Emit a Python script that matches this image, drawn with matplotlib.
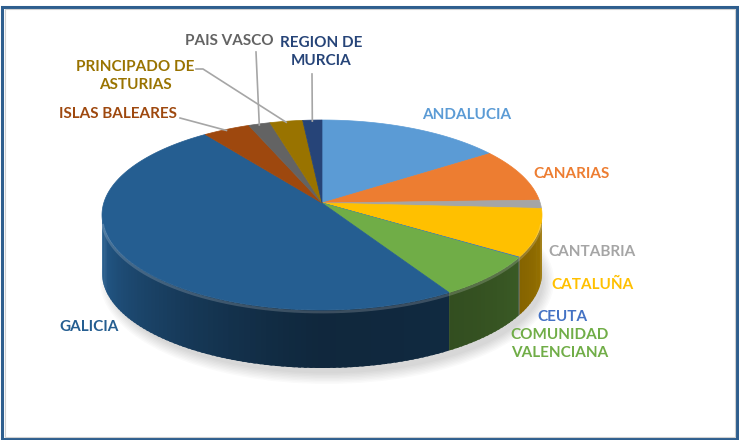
import matplotlib
matplotlib.use("Agg")
import matplotlib.pyplot as plt
import numpy as np
from matplotlib.colors import to_rgb
from matplotlib.patches import Polygon, Ellipse, Rectangle

# data (share of each region, clockwise from 12 o'clock)
regions = ["ANDALUCIA", "CANARIAS", "CANTABRIA", "CATALUÑA", "CEUTA",
           "COMUNIDAD\nVALENCIANA", "GALICIA", "ISLAS BALEARES", "PAIS VASCO",
           "PRINCIPADO DE\nASTURIAS", "REGION DE\nMURCIA"]
values = [13.8, 8.7, 1.4, 8.4, 0.1, 7.8, 50.9, 3.5, 1.6, 2.4, 1.4]
colors = ["#5B9BD5", "#ED7D31", "#A5A5A5", "#FFC000", "#4472C4", "#70AD47",
          "#255E91", "#9E480E", "#636363", "#997300", "#264478"]

# label placement (pixel coords of the 739x440 canvas)
label_pos = [(467, 115), (572, 174), (592, 252), (593, 285), (562, 317),
             (560, 344), (89, 327), (118, 114), (229, 41), (135, 76), (321, 52)]
leader_from = {7: [(180, 118)], 8: [(256, 52)], 9: [(196, 69), (203, 69)],
               10: [(312, 74)]}

# pie geometry
cx, cy, rx, ry = 322, 215, 220, 95
apex_y = 203
depth = 58

fig = plt.figure(figsize=(7.39, 4.40), dpi=100)
ax = fig.add_axes([0, 0, 1, 1])
ax.set_xlim(0, 739)
ax.set_ylim(440, 0)
ax.axis("off")


def edge_pt(a, dy=0.0):
    r = np.radians(a)
    return cx + rx * np.sin(r), cy - ry * np.cos(r) + dy


def shade(a):
    # side wall brightness: light on the left, darkest around the front-right
    if a >= 180:
        return 0.42 + 0.58 * ((a - 180) / 90) ** 1.3
    return 0.42 + 0.2 * ((180 - a) / 90) ** 2


vals = np.array(values, dtype=float)
ends = np.cumsum(vals) / vals.sum() * 360
starts = np.concatenate([[0], ends[:-1]])

# soft shadow below the pie
for k in range(8):
    ax.add_patch(Ellipse((cx + 5, cy + depth + 8), 2 * rx + 14 - k * 3,
                         2 * ry + 16 - k * 3, color="#000000", alpha=0.018, lw=0))

# side walls, drawn in narrow overlapping strips for the shading
for s, e, c in zip(starts, ends, colors):
    lo, hi = max(s, 90), min(e, 270)
    if hi <= lo:
        continue
    base = np.array(to_rgb(c))
    n = max(2, int((hi - lo) / 1.5))
    grid = np.linspace(lo, hi, n + 1)
    for a0, a1 in zip(grid[:-1], grid[1:]):
        tt = np.linspace(a0, min(a1 + 0.8, hi), 4)
        top = [edge_pt(t) for t in tt]
        bot = [edge_pt(t, depth) for t in tt[::-1]]
        col = np.clip(base * shade((a0 + a1) / 2), 0, 1)
        ax.add_patch(Polygon(top + bot, closed=True, facecolor=col, lw=0))

# top faces
for s, e, c in zip(starts, ends, colors):
    tt = np.linspace(s, e, max(3, int(e - s) + 2))
    pts = [(cx, apex_y)] + [edge_pt(t) for t in tt]
    ax.add_patch(Polygon(pts, closed=True, facecolor=c, edgecolor=c, lw=0.5))

# rim highlight along the front edge
tt = np.linspace(95, 265, 200)
rim = np.array([edge_pt(t, 2) for t in tt])
ax.plot(rim[:, 0], rim[:, 1], color="white", alpha=0.18, lw=2)

# leader lines
for i, pts in leader_from.items():
    mid = (starts[i] + ends[i]) / 2
    px, py = edge_pt(mid, 1)
    xs = [p[0] for p in pts] + [px]
    ys = [p[1] for p in pts] + [py]
    ax.plot(xs, ys, color="#A6A6A6", lw=1.2)

# labels
for name, (lx, ly), c in zip(regions, label_pos, colors):
    ax.text(lx, ly, name, color=c, fontsize=11, fontweight="bold",
            family="Lato", ha="center", va="center", linespacing=1.3)

# chart frame
fig.patches.append(Rectangle((2 / 739, 1 / 440), 735 / 739, 432 / 440,
                             transform=fig.transFigure, fill=False,
                             edgecolor="#2E5E8E", lw=2.2))
fig.patches.append(Rectangle((4.5 / 739, 3.5 / 440), 730 / 739, 427 / 440,
                             transform=fig.transFigure, fill=False,
                             edgecolor="#D0D0D0", lw=0.8))

fig.savefig("out.png", dpi=100)
